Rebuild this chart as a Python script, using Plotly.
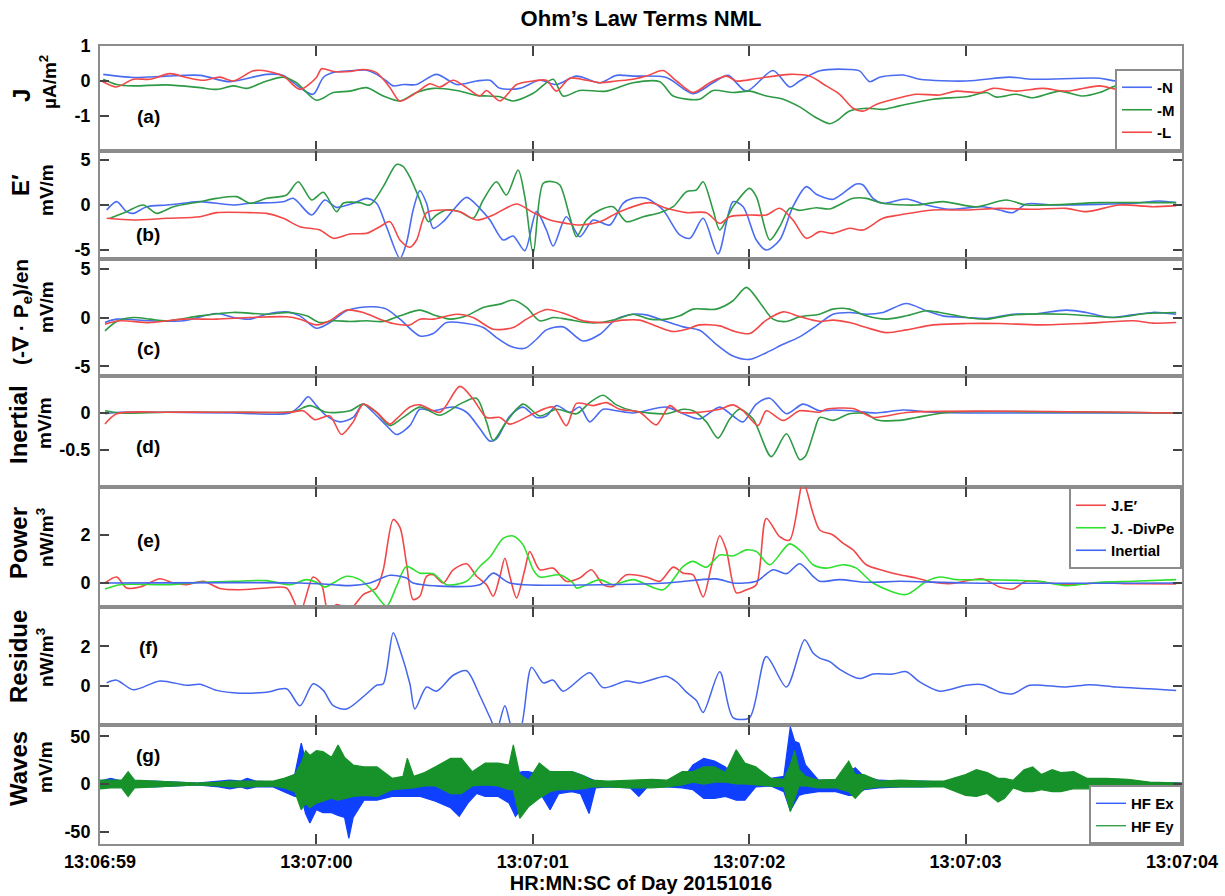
import plotly.graph_objects as go
from plotly.subplots import make_subplots

FONT = "Liberation Sans, Arial, Helvetica, sans-serif"

# ---------------- time axis (seconds after 13:06:59) ----------------
tick_vals = [0, 1, 2, 3, 4, 5]
tick_text = ["13:06:59", "13:07:00", "13:07:01", "13:07:02", "13:07:03", "13:07:04"]

# ---------------- (a) J  [uA/m^2]  (t, value) ----------------
J_N = [(0.015,0.19),(0.154,0.1),(0.308,0.14),(0.462,0.16),(0.6,-0.02),(0.77,0.19),(0.847,0.16),(0.924,-0.19),(0.985,-0.38),(1.032,0.1),(1.078,0.24),(1.155,0.29),(1.232,0.31),(1.278,0.19),(1.324,0.0),(1.355,-0.14),(1.401,-0.1),(1.463,-0.1),(1.555,0.19),(1.648,-0.1),(1.74,0.0),(1.802,0.02),(1.848,-0.21),(1.94,-0.21),(2.032,0.02),(2.109,-0.1),(2.202,0.14),(2.31,-0.05),(2.386,0.16),(2.463,0.14),(2.617,0.1),(2.741,-0.36),(2.833,-0.05),(2.902,0.16),(2.987,-0.29),(3.11,0.3),(3.187,-0.17),(3.233,0.0),(3.326,0.29),(3.464,0.33),(3.51,0.29),(3.557,-0.02),(3.603,0.11),(3.711,0.17),(3.788,0.05),(4.004,0.0),(4.203,0.11),(4.311,0.05),(4.619,0.08),(4.696,0.0),(4.865,0.1),(4.988,-0.02)]
J_M = [(0.015,0.05),(0.077,-0.1),(0.154,-0.14),(0.308,-0.11),(0.462,-0.19),(0.539,-0.24),(0.616,-0.14),(0.677,-0.21),(0.77,0.0),(0.847,0.11),(0.908,-0.05),(1.0,-0.55),(1.078,-0.33),(1.155,-0.29),(1.232,-0.19),(1.309,-0.43),(1.386,-0.57),(1.463,-0.33),(1.54,-0.21),(1.648,-0.27),(1.74,-0.41),(1.848,-0.45),(1.909,-0.57),(2.002,-0.35),(2.094,0.05),(2.14,-0.43),(2.217,-0.27),(2.34,-0.29),(2.463,-0.05),(2.587,-0.02),(2.649,-0.43),(2.771,-0.52),(2.833,-0.27),(2.925,-0.33),(3.002,-0.29),(3.079,-0.43),(3.157,-0.52),(3.233,-0.74),(3.31,-1.05),(3.372,-1.22),(3.403,-1.14),(3.464,-0.86),(3.541,-0.78),(3.618,-0.81),(3.695,-0.71),(3.849,-0.52),(4.004,-0.45),(4.096,-0.33),(4.142,-0.46),(4.234,-0.38),(4.311,-0.48),(4.434,-0.29),(4.542,-0.43),(4.619,-0.33),(4.711,-0.11),(4.773,-0.19),(4.85,-0.33),(4.988,-0.29)]
J_L = [(0.008,0.0),(0.077,-0.17),(0.154,0.05),(0.231,0.05),(0.323,0.21),(0.4,0.1),(0.477,0.02),(0.554,0.11),(0.616,0.0),(0.708,0.29),(0.754,0.3),(0.847,0.14),(0.924,-0.24),(1.0,0.1),(1.024,0.35),(1.078,0.27),(1.155,0.27),(1.216,0.33),(1.278,0.24),(1.34,-0.19),(1.386,-0.57),(1.463,-0.33),(1.524,-0.08),(1.571,-0.17),(1.632,0.02),(1.694,-0.19),(1.755,-0.43),(1.786,-0.27),(1.848,-0.57),(1.925,-0.1),(2.002,0.0),(2.063,0.02),(2.109,-0.29),(2.171,0.08),(2.248,0.02),(2.31,-0.05),(2.386,0.0),(2.463,0.05),(2.525,0.14),(2.602,0.3),(2.664,0.0),(2.741,-0.33),(2.818,-0.05),(2.894,0.14),(2.941,0.0),(3.033,0.07),(3.187,0.19),(3.279,0.14),(3.356,-0.14),(3.418,-0.38),(3.48,-0.78),(3.526,-0.86),(3.587,-0.67),(3.695,-0.48),(3.772,-0.38),(3.88,-0.4),(3.957,-0.29),(4.065,-0.33),(4.127,-0.21),(4.234,-0.29),(4.357,-0.21),(4.465,-0.29),(4.619,-0.14),(4.696,-0.24),(4.85,-0.3),(4.988,-0.19)]

# ---------------- (b) E'  [mV/m] ----------------
E_N = [(0.031,-0.56),(0.077,0.37),(0.123,-0.74),(0.154,-0.93),(0.216,-0.19),(0.308,0.0),(0.385,0.19),(0.462,0.37),(0.616,0.0),(0.693,0.19),(0.847,0.37),(0.893,0.74),(0.978,-1.11),(1.039,0.56),(1.093,-0.26),(1.17,0.19),(1.232,0.74),(1.278,0.19),(1.324,-2.41),(1.386,-5.93),(1.416,-4.26),(1.447,-0.56),(1.478,1.59),(1.509,0.19),(1.54,-2.59),(1.586,-1.85),(1.632,-0.56),(1.694,0.85),(1.755,-0.37),(1.802,-1.67),(1.863,-3.89),(1.909,-3.44),(1.963,-5.07),(2.017,-0.74),(2.063,-2.78),(2.094,-4.56),(2.155,-1.3),(2.217,-3.52),(2.279,-1.67),(2.356,-2.22),(2.417,0.19),(2.463,0.74),(2.525,0.74),(2.602,-0.56),(2.679,-3.33),(2.726,-3.7),(2.787,-1.48),(2.856,-5.44),(2.925,0.37),(2.972,-0.19),(3.033,-3.89),(3.079,-5.0),(3.141,-3.89),(3.202,-0.19),(3.264,2.04),(3.31,1.2),(3.387,0.63),(3.433,1.3),(3.495,2.33),(3.526,2.22),(3.572,0.74),(3.618,0.19),(3.726,0.67),(3.819,0.0),(3.926,-0.48),(4.08,-0.19),(4.157,-0.56),(4.219,-0.85),(4.28,0.11),(4.403,0.0),(4.619,0.07),(4.773,0.19),(4.896,0.44),(4.973,0.26)]
E_M = [(0.046,-1.48),(0.123,-0.74),(0.2,0.0),(0.262,-0.93),(0.339,-0.19),(0.462,0.37),(0.539,0.74),(0.631,0.93),(0.693,0.19),(0.77,0.74),(0.862,1.11),(0.916,2.59),(0.978,0.56),(1.032,1.41),(1.093,-0.74),(1.124,0.19),(1.201,0.26),(1.247,0.0),(1.309,2.04),(1.37,4.5),(1.40,4.3),(1.432,3.1),(1.478,0.56),(1.517,-1.85),(1.555,-1.11),(1.601,-0.56),(1.663,-0.74),(1.724,-1.48),(1.771,0.56),(1.832,2.59),(1.878,1.11),(1.932,3.89),(1.963,0.93),(2.002,-5.37),(2.048,2.41),(2.094,2.59),(2.125,2.22),(2.171,-1.3),(2.202,-3.52),(2.248,-1.67),(2.31,-0.56),(2.371,-0.19),(2.433,-1.85),(2.51,-1.3),(2.587,-0.85),(2.649,-0.19),(2.71,1.48),(2.756,1.67),(2.787,2.59),(2.833,-0.56),(2.864,-2.78),(2.925,-0.19),(3.002,1.85),(3.033,0.93),(3.095,-3.89),(3.141,-2.41),(3.187,-0.37),(3.233,-0.6),(3.31,-0.3),(3.372,-0.44),(3.48,0.74),(3.541,0.74),(3.618,0.19),(3.772,0.0),(3.895,0.37),(4.05,-0.19),(4.188,0.56),(4.28,0.0),(4.619,0.26),(4.85,0.26),(4.973,0.26)]
E_L = [(0.031,-1.48),(0.154,-1.67),(0.308,-1.48),(0.462,-1.3),(0.539,-0.85),(0.693,-0.85),(0.77,-0.93),(0.847,-1.48),(0.924,-2.41),(1.016,-2.78),(1.078,-3.7),(1.155,-3.22),(1.232,-3.15),(1.293,-2.41),(1.34,-1.85),(1.386,-3.89),(1.432,-4.7),(1.463,-3.89),(1.509,-0.85),(1.601,-0.56),(1.663,-0.74),(1.74,-1.67),(1.817,-1.11),(1.925,0.11),(2.002,-0.85),(2.079,-1.67),(2.155,-2.04),(2.217,-2.22),(2.31,-1.85),(2.402,-0.74),(2.54,0.26),(2.617,-0.37),(2.71,-0.85),(2.802,-0.85),(2.864,-2.04),(2.91,-1.3),(3.002,-1.11),(3.079,-1.11),(3.141,-0.37),(3.202,-1.67),(3.264,-3.7),(3.326,-2.96),(3.387,-3.15),(3.464,-2.59),(3.526,-2.78),(3.618,-1.48),(3.695,-1.11),(3.849,-0.56),(4.004,-0.56),(4.157,-0.37),(4.311,-0.48),(4.465,-0.37),(4.557,-0.74),(4.711,0.0),(4.865,-0.19),(4.973,-0.07)]

# ---------------- (c) (-div Pe)/en  [mV/m] ----------------
P_N = [(0.023,-0.52),(0.077,-0.17),(0.231,-0.34),(0.385,-0.34),(0.539,0.41),(0.616,0.0),(0.693,-0.17),(0.77,0.34),(0.862,0.58),(0.924,0.17),(1.0,-1.1),(1.062,-0.52),(1.139,0.69),(1.201,1.03),(1.262,1.1),(1.324,0.86),(1.386,-0.17),(1.478,-1.89),(1.54,-1.65),(1.601,-0.52),(1.694,-0.62),(1.771,-1.03),(1.832,-2.06),(1.894,-2.92),(1.963,-3.16),(2.017,-2.23),(2.063,-1.27),(2.14,-0.96),(2.232,-2.41),(2.31,-1.72),(2.386,-0.17),(2.463,0.34),(2.525,0.27),(2.617,-0.41),(2.695,-0.96),(2.771,-1.31),(2.848,-2.75),(2.925,-3.95),(3.002,-4.3),(3.079,-3.61),(3.157,-2.75),(3.233,-1.99),(3.31,-0.86),(3.387,0.34),(3.464,0.52),(3.541,0.34),(3.618,0.52),(3.726,1.44),(3.819,0.69),(3.895,0.17),(4.004,0.0),(4.096,-0.1),(4.219,0.34),(4.311,0.34),(4.465,0.76),(4.557,0.52),(4.665,0.0),(4.773,0.27),(4.865,0.52),(4.973,0.34)]
P_M = [(0.023,-1.37),(0.077,-0.41),(0.154,0.0),(0.231,-0.17),(0.308,-0.34),(0.462,0.17),(0.616,0.52),(0.77,0.34),(0.878,0.52),(0.955,0.17),(1.016,-0.52),(1.078,-0.34),(1.155,-0.41),(1.232,-0.34),(1.309,-0.41),(1.386,0.17),(1.478,0.76),(1.555,0.17),(1.617,-0.17),(1.694,0.17),(1.771,1.03),(1.848,1.37),(1.909,1.79),(1.971,1.03),(2.032,-0.34),(2.094,0.0),(2.155,-0.17),(2.248,-0.52),(2.31,-0.52),(2.386,-0.17),(2.463,0.34),(2.54,-0.17),(2.617,-0.17),(2.679,0.17),(2.741,0.86),(2.848,0.86),(2.925,1.72),(2.987,3.09),(3.049,1.55),(3.11,-0.17),(3.172,-0.41),(3.233,0.07),(3.325,0.34),(3.387,0.86),(3.464,0.86),(3.541,0.17),(3.634,-0.17),(3.726,0.17),(3.819,0.69),(3.88,0.52),(4.004,0.0),(4.096,-0.17),(4.219,0.27),(4.465,0.34),(4.696,0.0),(4.834,0.41),(4.973,0.52)]
P_L = [(0.023,-0.69),(0.092,-0.34),(0.231,-0.52),(0.385,-0.17),(0.539,-0.17),(0.693,0.0),(0.862,0.07),(0.924,-0.17),(1.0,-0.76),(1.062,-0.34),(1.139,0.76),(1.216,0.52),(1.293,-0.17),(1.355,-0.62),(1.432,-0.76),(1.478,-0.17),(1.54,-0.17),(1.648,0.34),(1.724,0.0),(1.817,-1.2),(1.909,-1.03),(1.971,-0.17),(2.063,0.82),(2.155,0.34),(2.232,-0.34),(2.34,-0.52),(2.417,-0.27),(2.494,-0.27),(2.587,-1.03),(2.649,-1.44),(2.71,-1.2),(2.771,-0.76),(2.864,-0.86),(2.925,-1.37),(3.002,-1.65),(3.079,-0.27),(3.157,0.58),(3.233,0.1),(3.325,-0.4),(3.387,-0.27),(3.464,-0.52),(3.541,-1.03),(3.634,-1.55),(3.726,-1.27),(3.849,-0.76),(4.004,-0.62),(4.157,-0.62),(4.342,-0.76),(4.542,-0.62),(4.773,-0.34),(4.865,-0.58),(4.973,-0.52)]

# ---------------- (d) Inertial  [mV/m] ----------------
I_N = [(0.023,-0.01),(0.092,0.01),(0.308,0.01),(0.616,0.0),(0.878,0.0),(0.924,0.1),(0.962,0.22),(1.0,0.1),(1.047,-0.04),(1.109,-0.12),(1.17,-0.06),(1.216,0.12),(1.262,0.01),(1.324,-0.17),(1.37,-0.29),(1.432,-0.17),(1.478,0.05),(1.54,0.03),(1.632,0.08),(1.694,0.01),(1.755,-0.21),(1.802,-0.38),(1.832,-0.35),(1.894,-0.04),(1.955,0.08),(2.017,-0.06),(2.063,-0.04),(2.109,0.1),(2.171,0.01),(2.217,0.08),(2.263,-0.12),(2.325,0.05),(2.386,0.03),(2.463,0.0),(2.617,0.08),(2.695,-0.01),(2.771,-0.08),(2.864,0.08),(2.925,-0.04),(2.972,-0.12),(3.033,0.12),(3.095,0.2),(3.172,-0.01),(3.249,0.12),(3.325,0.03),(3.387,0.04),(3.464,0.03),(3.587,0.0),(3.711,0.04),(3.849,0.01),(4.004,0.0),(4.988,0.0)]
I_M = [(0.023,0.03),(0.092,0.0),(0.308,0.01),(0.616,0.01),(0.893,0.02),(0.97,0.1),(1.047,0.01),(1.155,0.03),(1.216,0.12),(1.278,0.01),(1.34,-0.17),(1.401,-0.06),(1.478,0.08),(1.571,-0.03),(1.663,0.12),(1.74,0.2),(1.786,-0.12),(1.817,-0.37),(1.878,-0.12),(1.955,0.12),(2.032,-0.04),(2.109,0.05),(2.202,-0.01),(2.263,0.14),(2.325,0.24),(2.386,0.11),(2.463,0.03),(2.617,-0.01),(2.695,0.05),(2.741,0.03),(2.802,-0.12),(2.856,-0.34),(2.91,-0.08),(2.956,0.05),(3.018,-0.08),(3.102,-0.59),(3.172,-0.28),(3.233,-0.63),(3.26,-0.58),(3.30,-0.25),(3.326,-0.06),(3.387,-0.1),(3.464,-0.01),(3.541,-0.01),(3.587,-0.09),(3.695,-0.1),(3.772,-0.06),(3.926,0.01),(4.157,0.02),(4.988,0.0)]
I_L = [(0.023,-0.15),(0.077,-0.01),(0.308,0.01),(0.616,0.01),(0.878,0.01),(0.939,0.03),(0.993,-0.09),(1.062,-0.04),(1.116,-0.29),(1.17,-0.12),(1.216,0.12),(1.278,0.01),(1.34,-0.15),(1.37,-0.08),(1.432,0.08),(1.478,0.11),(1.571,0.01),(1.663,0.36),(1.724,0.19),(1.786,-0.06),(1.848,-0.06),(1.894,-0.15),(2.002,-0.01),(2.094,0.08),(2.155,-0.17),(2.202,0.13),(2.279,0.1),(2.34,0.14),(2.402,0.05),(2.494,0.01),(2.571,-0.16),(2.633,0.1),(2.679,0.01),(2.771,0.01),(2.864,0.05),(2.925,0.11),(2.972,0.03),(3.041,-0.17),(3.079,0.03),(3.157,-0.1),(3.233,0.03),(3.325,0.01),(3.356,0.05),(3.48,0.06),(3.572,-0.06),(3.634,-0.04),(3.741,0.01),(4.988,0.0)]

# ---------------- (e) Power  [nW/m^3] ----------------
POW_JE = [(0.023,0.0),(0.077,0.25),(0.123,-0.21),(0.185,-0.17),(0.277,0.18),(0.339,0.0),(0.4,-0.07),(0.477,0.07),(0.554,-0.23),(0.647,-0.28),(0.77,-0.21),(0.862,-0.21),(0.924,-1.2),(0.985,0.25),(1.024,-0.07),(1.055,-1.2),(1.093,-0.9),(1.155,-1.1),(1.216,-0.48),(1.278,-0.21),(1.309,0.55),(1.355,2.65),(1.386,2.32),(1.416,0.83),(1.447,-0.69),(1.478,-0.55),(1.509,0.28),(1.54,0.34),(1.586,0.0),(1.632,0.55),(1.694,0.8),(1.74,0.28),(1.786,-0.07),(1.817,-0.55),(1.848,0.28),(1.871,1.03),(1.894,0.28),(1.925,-0.62),(1.963,0.55),(1.986,1.31),(2.032,0.55),(2.094,0.62),(2.155,0.07),(2.217,0.21),(2.271,0.55),(2.325,-0.07),(2.371,-0.14),(2.433,0.34),(2.525,0.25),(2.587,0.07),(2.649,0.66),(2.695,0.41),(2.741,0.34),(2.787,-0.58),(2.825,0.69),(2.864,1.97),(2.894,1.38),(2.941,-0.41),(2.987,-0.28),(3.033,-0.07),(3.079,2.69),(3.141,1.93),(3.187,1.79),(3.249,4.2),(3.295,2.9),(3.326,2.21),(3.387,2.0),(3.433,1.66),(3.48,1.38),(3.541,0.76),(3.618,0.52),(3.695,0.34),(3.772,0.21),(3.849,0.03),(3.926,-0.03),(4.08,0.17),(4.157,-0.17),(4.219,-0.25),(4.28,0.07),(4.388,0.0),(4.465,-0.07),(4.619,0.0),(4.773,-0.03),(4.973,-0.04)]
POW_DIVPE = [(0.023,-0.25),(0.092,-0.07),(0.308,-0.07),(0.462,0.03),(0.616,0.07),(0.77,0.1),(0.878,-0.07),(0.955,0.14),(1.0,0.03),(1.039,-0.17),(1.078,0.0),(1.139,0.28),(1.201,0.14),(1.262,-0.34),(1.324,-0.97),(1.37,-0.14),(1.416,0.69),(1.478,0.41),(1.54,0.39),(1.601,-0.07),(1.694,0.07),(1.755,0.69),(1.802,1.08),(1.863,1.86),(1.909,1.96),(1.955,1.59),(2.002,0.55),(2.032,0.25),(2.125,0.34),(2.186,0.0),(2.202,-0.21),(2.31,0.14),(2.371,-0.07),(2.463,0.14),(2.602,-0.28),(2.695,0.69),(2.741,0.9),(2.802,0.66),(2.864,1.17),(2.925,1.13),(2.987,1.38),(3.033,1.31),(3.095,0.76),(3.187,1.63),(3.249,1.24),(3.295,0.76),(3.356,0.62),(3.433,0.76),(3.495,0.62),(3.572,0.0),(3.726,-0.48),(3.819,0.07),(3.88,0.25),(3.957,0.14),(4.08,0.14),(4.234,0.11),(4.342,0.07),(4.465,-0.11),(4.619,0.03),(4.773,0.07),(4.973,0.14)]
POW_INERT = [(0.023,0.0),(0.924,0.0),(1.078,-0.07),(1.155,-0.11),(1.247,0.0),(1.34,0.32),(1.416,0.21),(1.447,0.0),(1.755,-0.07),(1.817,0.41),(1.894,0.0),(2.31,-0.07),(2.617,0.0),(2.848,0.17),(2.925,0.0),(3.033,0.07),(3.11,0.55),(3.172,0.39),(3.233,0.8),(3.295,0.28),(3.326,0.07),(3.418,0.14),(3.541,0.03),(3.695,0.07),(4.004,0.0),(4.973,0.0)]

# ---------------- (f) Residue  [nW/m^3] ----------------
RESIDUE = [(0.031,0.14),(0.077,0.28),(0.154,-0.21),(0.277,0.24),(0.4,0.02),(0.462,0.07),(0.539,-0.24),(0.647,-0.38),(0.77,-0.33),(0.862,-0.16),(0.924,-1.02),(0.985,0.1),(1.032,-0.24),(1.078,-1.02),(1.139,-1.19),(1.232,-0.41),(1.278,0.02),(1.309,0.1),(1.355,2.69),(1.386,1.83),(1.432,0.1),(1.455,-1.19),(1.509,-0.07),(1.555,-0.28),(1.632,0.53),(1.694,0.76),(1.755,-0.5),(1.802,-1.62),(1.832,-2.3),(1.871,-1.02),(1.909,-2.3),(1.94,-2.3),(1.994,0.93),(2.048,0.14),(2.094,0.28),(2.14,-0.28),(2.263,0.66),(2.325,-0.1),(2.433,0.24),(2.494,0.14),(2.617,0.48),(2.664,0.19),(2.71,-0.33),(2.756,-0.76),(2.787,-1.36),(2.864,0.71),(2.925,-1.62),(3.002,-1.62),(3.079,1.48),(3.172,-0.07),(3.256,2.34),(3.295,1.66),(3.326,1.4),(3.372,1.22),(3.418,0.83),(3.51,0.36),(3.572,0.59),(3.664,0.59),(3.726,0.71),(3.788,0.19),(3.88,-0.28),(4.004,0.02),(4.08,0.05),(4.157,-0.33),(4.219,-0.41),(4.296,0.02),(4.465,-0.07),(4.573,0.05),(4.696,-0.07),(4.85,-0.16),(4.973,-0.24)]

# ---------------- (g) Waves  [mV/m]  (t, min, max) envelope of the HF oscillation ----------------
HF_EX = [(0.00,-4,3),(0.05,-3,6),(0.10,-3,3),(0.16,-3,3),(0.25,-3,3),(0.35,-2,2),(0.45,-1,1),(0.55,-3,3),(0.60,-5,4),(0.65,-3,3),(0.68,-5,6),(0.72,-3,3),(0.80,-3,2),(0.85,-8,5),(0.90,-13,10),(0.93,-13,43),(0.95,-31,25),(0.97,-41,20),(1.00,-27,18),(1.03,-30,12),(1.07,-30,10),(1.10,-33,10),(1.13,-35,10),(1.15,-57,8),(1.17,-35,8),(1.22,-17,6),(1.28,-17,5),(1.35,-13,4),(1.42,-13,4),(1.48,-13,3),(1.55,-18,6),(1.62,-25,15),(1.66,-34,22),(1.70,-20,10),(1.74,-10,6),(1.78,-13,13),(1.84,-13,13),(1.89,-20,11),(1.92,-34,10),(1.95,-25,13),(1.98,-10,13),(2.03,-8,10),(2.08,-27,9),(2.12,-10,13),(2.18,-8,13),(2.22,-10,10),(2.26,-31,6),(2.29,-4,3),(2.35,-3,2),(2.45,-4,3),(2.49,-13,3),(2.53,-3,3),(2.62,-3,3),(2.69,-4,4),(2.74,-6,20),(2.79,-15,27),(2.84,-15,24),(2.89,-13,18),(2.94,-17,4),(2.98,-17,4),(3.03,-3,6),(3.10,-2,6),(3.16,-8,8),(3.19,-28,60),(3.21,-20,45),(3.23,-12,43),(3.26,-10,20),(3.32,-8,4),(3.40,-8,4),(3.46,-12,13),(3.49,-12,17),(3.53,-6,8),(3.60,-4,4),(3.70,-3,3),(3.80,-3,3),(3.90,-2,2),(4.00,-4,6),(4.05,-6,6),(4.10,-6,5),(4.15,-12,3),(4.18,-10,3),(4.22,-3,3),(4.35,-3,3),(4.50,-3,3),(4.65,-2,2),(4.85,-1,1),(5.00,-1,1)]
HF_EY = [(0.00,-5,4),(0.05,-4,4),(0.10,-4,4),(0.13,-13,13),(0.16,-4,4),(0.25,-3,3),(0.35,-2,2),(0.45,-1,1),(0.55,-2,2),(0.60,-3,3),(0.68,-3,3),(0.80,-2,3),(0.85,-4,6),(0.90,-8,10),(0.93,-27,22),(0.95,-20,35),(0.97,-25,30),(1.00,-20,35),(1.03,-18,34),(1.07,-15,28),(1.10,-17,41),(1.13,-15,28),(1.17,-13,20),(1.22,-12,18),(1.28,-13,18),(1.35,-6,6),(1.40,-5,8),(1.42,-5,27),(1.45,-4,8),(1.50,-2,12),(1.55,-2,18),(1.62,-10,27),(1.67,-10,27),(1.72,-2,13),(1.78,-1,22),(1.84,-2,22),(1.89,-6,20),(1.91,-6,41),(1.94,-36,10),(1.98,-24,4),(2.03,-15,22),(2.08,-8,13),(2.12,-6,13),(2.18,-6,13),(2.24,-5,8),(2.27,-3,4),(2.35,-3,3),(2.45,-4,4),(2.55,-4,5),(2.62,-3,4),(2.69,-1,13),(2.74,2,13),(2.79,0,18),(2.84,2,18),(2.89,2,12),(2.94,0,36),(2.98,0,22),(3.03,-1,18),(3.10,-2,6),(3.16,-3,5),(3.19,-29,20),(3.21,-15,35),(3.23,-2,15),(3.26,-2,8),(3.32,-4,4),(3.40,-4,5),(3.46,-8,24),(3.49,-15,10),(3.53,-5,10),(3.60,-3,3),(3.70,-3,4),(3.80,-3,3),(3.90,-3,3),(4.00,-12,10),(4.05,-13,15),(4.10,-10,12),(4.15,-19,6),(4.18,-15,6),(4.22,-4,4),(4.27,-8,15),(4.31,-8,18),(4.35,-6,10),(4.40,-8,15),(4.44,-8,12),(4.50,-5,13),(4.56,-5,6),(4.65,-5,6),(4.75,-4,5),(4.85,-2,2),(5.00,-1,1)]

# ---------------- colours ----------------
BLUE, GREEN, RED = "#4a6cf2", "#2e9a44", "#f24848"
P_RED, P_GREEN, P_BLUE = "#f04848", "#2fe02f", "#4466ee"
W_BLUE, W_GREEN = "#1040ff", "#17922a"

fig = make_subplots(rows=7, cols=1, shared_xaxes=True, vertical_spacing=0,
                    row_heights=[105, 108, 117, 111, 120, 118, 119])


def add_line(pairs, row, name, color, legend="legend", showlegend=False, width=1.6):
    t = [p[0] for p in pairs]
    v = [p[1] for p in pairs]
    fig.add_trace(go.Scatter(x=t, y=v, mode="lines", name=name, legend=legend,
                             showlegend=showlegend, hoverinfo="skip",
                             line=dict(color=color, width=width, shape="spline", smoothing=0.8)),
                  row=row, col=1)


# (a)
add_line(J_N, 1, "-N", BLUE, "legend", True)
add_line(J_M, 1, "-M", GREEN, "legend", True)
add_line(J_L, 1, "-L", RED, "legend", True)
# (b)
add_line(E_N, 2, "-N", BLUE)
add_line(E_M, 2, "-M", GREEN)
add_line(E_L, 2, "-L", RED)
# (c)
add_line(P_N, 3, "-N", BLUE)
add_line(P_M, 3, "-M", GREEN)
add_line(P_L, 3, "-L", RED)
# (d)
add_line(I_N, 4, "-N", BLUE)
add_line(I_M, 4, "-M", GREEN)
add_line(I_L, 4, "-L", RED)
# (e)
add_line(POW_JE, 5, "J.E′", P_RED, "legend2", True)
add_line(POW_DIVPE, 5, "J. -DivPe", P_GREEN, "legend2", True)
add_line(POW_INERT, 5, "Inertial", P_BLUE, "legend2", True)
# (f)
add_line(RESIDUE, 6, "Residue", P_BLUE, width=1.5)

# (g) waves: dense HF oscillation drawn as its filled min/max band
for series, name, color in [(HF_EX, "HF Ex", W_BLUE), (HF_EY, "HF Ey", W_GREEN)]:
    t = [p[0] for p in series]
    lo = [p[1] for p in series]
    hi = [p[2] for p in series]
    fig.add_trace(go.Scatter(x=t, y=hi, mode="lines", name=name, legend="legend3",
                             showlegend=True, hoverinfo="skip",
                             line=dict(color=color, width=1.2)), row=7, col=1)
    fig.add_trace(go.Scatter(x=t, y=lo, mode="lines", name=name, legend="legend3",
                             showlegend=False, hoverinfo="skip", fill="tonexty",
                             fillcolor=color, line=dict(color=color, width=1.2)), row=7, col=1)

# ---------------- axes ----------------
y_ranges = [[-2, 1], [-6, 6], [-6, 6], [-1, 0.5], [-1, 4], [-2, 4], [-63, 62]]
y_ticks = [[-1, 0, 1], [-5, 0, 5], [-5, 0, 5], [-0.5, 0], [0, 2], [0, 2], [-50, 0, 50]]
y_ticktext = [["-1", "0", "1"], ["-5", "0", "5"], ["-5", "0", "5"], ["-0.5", "0"],
              ["0", "2"], ["0", "2"], ["-50", "0", "50"]]

axis_common = dict(showline=True, linecolor="#8c8c8c", linewidth=2, mirror="ticks",
                   ticks="inside", tickcolor="#444", tickwidth=1.5, showgrid=False,
                   zeroline=False, automargin=False,
                   tickfont=dict(family=FONT, size=18, color="black", weight="bold"))

for i in range(7):
    fig.update_yaxes(range=y_ranges[i], tickvals=y_ticks[i], ticktext=y_ticktext[i],
                     ticklen=9, ticklabelstandoff=4, row=i + 1, col=1, **axis_common)
    fig.update_xaxes(range=[0, 5], tickvals=tick_vals, ticktext=tick_text, ticklen=10,
                     row=i + 1, col=1, **axis_common)

fig.update_xaxes(showticklabels=True, row=7, col=1,
                 title=dict(text="<b>HR:MN:SC of Day 20151016</b>", standoff=2,
                            font=dict(family=FONT, size=20, color="black")))

# ---------------- annotations: axis labels & panel letters ----------------
PLOT_L, PLOT_R, PLOT_T, PLOT_B = 100, 1182, 46, 844


def px_x(px):
    return (px - PLOT_L) / (PLOT_R - PLOT_L)


def px_y(py):
    return (PLOT_B - py) / (PLOT_B - PLOT_T)


ylabels = [
    ("J", 24, 21, 96, "µA/m<sup>2</sup>", 48, 82),
    ("E′", 24, 20, 185, "mV/m", 46, 190),
    ("(-∇ · P<sub>e</sub>)/en", 21, 22, 312, "mV/m", 47, 307),
    ("Inertial", 24, 18, 425, "mV/m", 45, 423),
    ("Power", 24, 18, 543, "nW/m<sup>3</sup>", 45, 538),
    ("Residue", 24, 18, 657, "nW/m<sup>3</sup>", 45, 658),
    ("Waves", 24, 18, 769, "mV/m", 45, 767),
]
for main, msize, mx, my, unit, ux, uy in ylabels:
    fig.add_annotation(text=f"<b>{main}</b>", x=px_x(mx), y=px_y(my), xref="paper", yref="paper",
                       textangle=-90, showarrow=False, xanchor="center", yanchor="middle",
                       font=dict(family=FONT, size=msize, color="black"))
    fig.add_annotation(text=f"<b>{unit}</b>", x=px_x(ux), y=px_y(uy), xref="paper", yref="paper",
                       textangle=-90, showarrow=False, xanchor="center", yanchor="middle",
                       font=dict(family=FONT, size=19, color="black"))

letters = [("(a)", 116), ("(b)", 235), ("(c)", 348), ("(d)", 447), ("(e)", 540), ("(f)", 647), ("(g)", 755)]
for lab, ly in letters:
    fig.add_annotation(text=f"<b>{lab}</b>", x=px_x(148), y=px_y(ly), xref="paper", yref="paper",
                       showarrow=False, xanchor="center", yanchor="middle",
                       font=dict(family=FONT, size=19, color="black"))

legend_style = dict(bgcolor="white", bordercolor="#8c8c8c", borderwidth=2, tracegroupgap=0,
                    traceorder="normal",
                    font=dict(family=FONT, size=15, color="black", weight="bold"),
                    xref="paper", yref="paper", x=1, xanchor="right")

fig.update_layout(
    template="none",
    width=1225, height=896,
    margin=dict(l=PLOT_L, r=1225 - PLOT_R, t=PLOT_T, b=896 - PLOT_B),
    paper_bgcolor="white", plot_bgcolor="white",
    font=dict(family=FONT, color="black"),
    title=dict(text="<b>Ohm’s Law Terms NML</b>", x=0.5, xref="paper", xanchor="center",
               y=1 - 18 / 896, yref="container", yanchor="middle",
               font=dict(family=FONT, size=22, color="black")),
    legend=dict(y=px_y(151), yanchor="bottom", **legend_style),
    legend2=dict(y=px_y(487), yanchor="top", **legend_style),
    legend3=dict(y=0, yanchor="bottom", **legend_style),
)

fig.write_html("out.html")
